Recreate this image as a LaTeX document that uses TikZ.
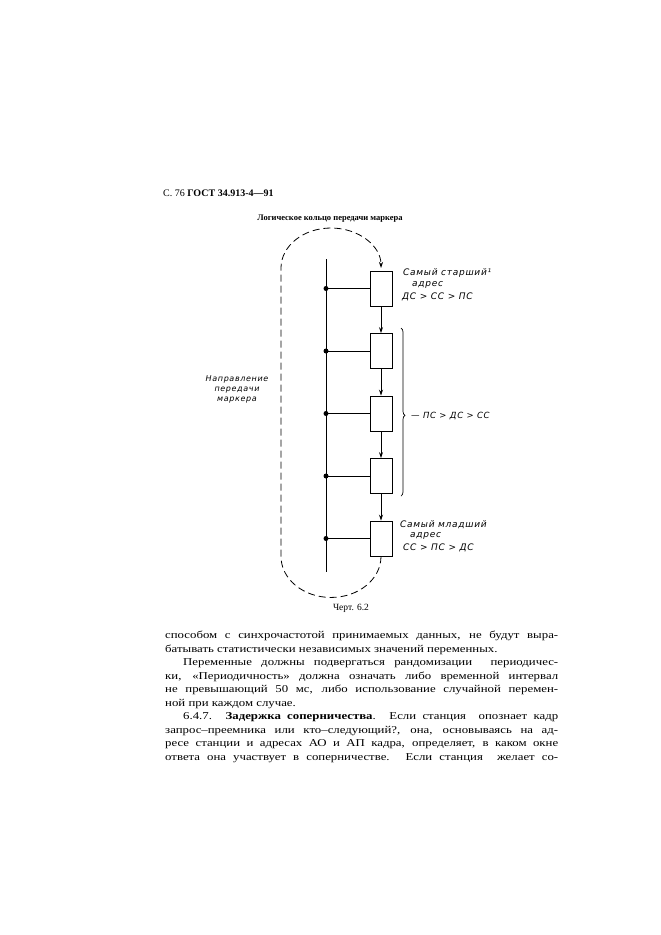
\documentclass[tikz,border=0pt]{standalone}
\usepackage{fontspec}
\usetikzlibrary{decorations.pathreplacing,arrows.meta}
\newfontfamily\bodyfont{Liberation Serif}[FakeStretch=1.22]
\newfontfamily\plainserif{Liberation Serif}
\newfontfamily\lblfont{DejaVu Sans}[LetterSpace=8]
\newcommand{\fullline}[1]{\makebox[393pt][s]{#1}}
\newcommand{\indline}[1]{\makebox[375pt][s]{#1}}
\tikzset{
  box/.style={draw, line width=0.9pt, minimum width=22pt, minimum height=35pt, inner sep=0pt},
  busdot/.style={circle, fill, inner sep=0pt, minimum size=5pt},
  conn/.style={line width=0.8pt},
  flow/.style={line width=0.8pt, -{Stealth[length=6pt,width=4pt]}},
  ring/.style={line width=0.8pt, dash pattern=on 7pt off 4pt},
  lbl/.style={font=\lblfont\itshape\fontsize{9}{10}\selectfont, inner sep=0pt, anchor=west},
  lbls/.style={font=\lblfont\itshape\fontsize{8}{10}\selectfont, inner sep=0pt, align=center},
  body/.style={font=\bodyfont\fontsize{10.5}{12}\selectfont, inner sep=0pt, anchor=base west},
  bracestyle/.style={line width=0.7pt, decorate, decoration={brace, amplitude=4pt, aspect=0.52}},
}
\begin{document}
\begin{tikzpicture}[x=1pt, y=-1pt]
\fill[white] (0,0) rectangle (661,935);
\path[use as bounding box] (0,0) rectangle (661,935);

% header and title
\node[font=\plainserif\fontsize{10}{12}\selectfont, inner sep=0pt, anchor=base west] (hdr) at (163,196.5) {С. 76 \textbf{ГОСТ 34.913-4—91}};
\node[font=\plainserif\bfseries\fontsize{8.5}{10}\selectfont, inner sep=0pt] (title) at (330,219) {Логическое кольцо передачи маркера};

% bus
\coordinate (bt) at (326,259);
\coordinate (bb) at (326,572);
\draw[conn] (bt) -- (bb);

% stations
\node[box] (b1) at (381,288.5) {};
\node[box] (b2) at (381,351) {};
\node[box] (b3) at (381,413.5) {};
\node[box] (b4) at (381,476) {};
\node[box] (b5) at (381,538.5) {};
\foreach \i in {1,...,5} {
  \node[busdot] (d\i) at (bt |- b\i) {};
  \draw[conn] (d\i.center) -- (b\i.west);
}
\draw[flow] (b1.south) -- (b2.north);
\draw[flow] (b2.south) -- (b3.north);
\draw[flow] (b3.south) -- (b4.north);
\draw[flow] (b4.south) -- (b5.north);

% token ring (dashed loop)
\coordinate (ringL) at (281,268);
\draw[ring, -{Stealth[length=6pt,width=4pt]}] (b5.south)
  arc[start angle=0, end angle=-180, x radius=50pt, y radius=41pt]
  -- (ringL)
  arc[start angle=180, end angle=0, x radius=50pt, y radius=40pt];

% brace
\coordinate (brT) at (401,328);
\coordinate (brB) at (401,496);
\draw[bracestyle] (brT) -- (brB);

% labels
\node[lbl] (l1a) at (403,273) {Самый старший¹};
\node[lbl] (l1b) at (412,285) {адрес};
\node[lbl] (l1c) at (402,297) {ДС > СС > ПС};
\node[lbl, font=\lblfont\itshape\fontsize{8.5}{10}\selectfont] (lmid) at (411,416) {— ПС > ДС > СС};
\node[lbl] (l5a) at (400,525) {Самый младший};
\node[lbl] (l5b) at (410,536) {адрес};
\node[lbl] (l5c) at (403,548) {СС > ПС > ДС};
\node[lbls] (ldir) at (237,389) {Направление\\передачи\\маркера};

\node[font=\plainserif\fontsize{9.5}{11}\selectfont, inner sep=0pt] (cap) at (351,608) {Черт. 6.2};

% body text
\node[body] (t1) at (165,638.5) {\fullline{способом с синхрочастотой принимаемых данных, не будут выра-}};
\node[body] (t2) at (165,652.0) {батывать статистически независимых значений переменных.};
\node[body] (t3) at (183,665.6) {\indline{Переменные должны подвергаться рандомизации \ периодичес-}};
\node[body] (t4) at (165,679.1) {\fullline{ки, «Периодичность» должна означать либо временной интервал}};
\node[body] (t5) at (165,692.7) {\fullline{не превышающий 50 мс, либо использование случайной перемен-}};
\node[body] (t6) at (165,706.2) {ной при каждом случае.};
\node[body] (t7) at (183,719.8) {\indline{6.4.7. \textbf{Задержка соперничества}. Если станция \ опознает кадр}};
\node[body] (t8) at (165,733.3) {\fullline{запрос–преемника или кто–следующий?, она, основываясь на ад-}};
\node[body] (t9) at (165,746.9) {\fullline{ресе станции и адресах АО и АП кадра, определяет, в каком окне}};
\node[body] (t10) at (165,760.4) {\fullline{ответа она участвует в соперничестве. Если станция \ желает со-}};
\end{tikzpicture}
\end{document}
